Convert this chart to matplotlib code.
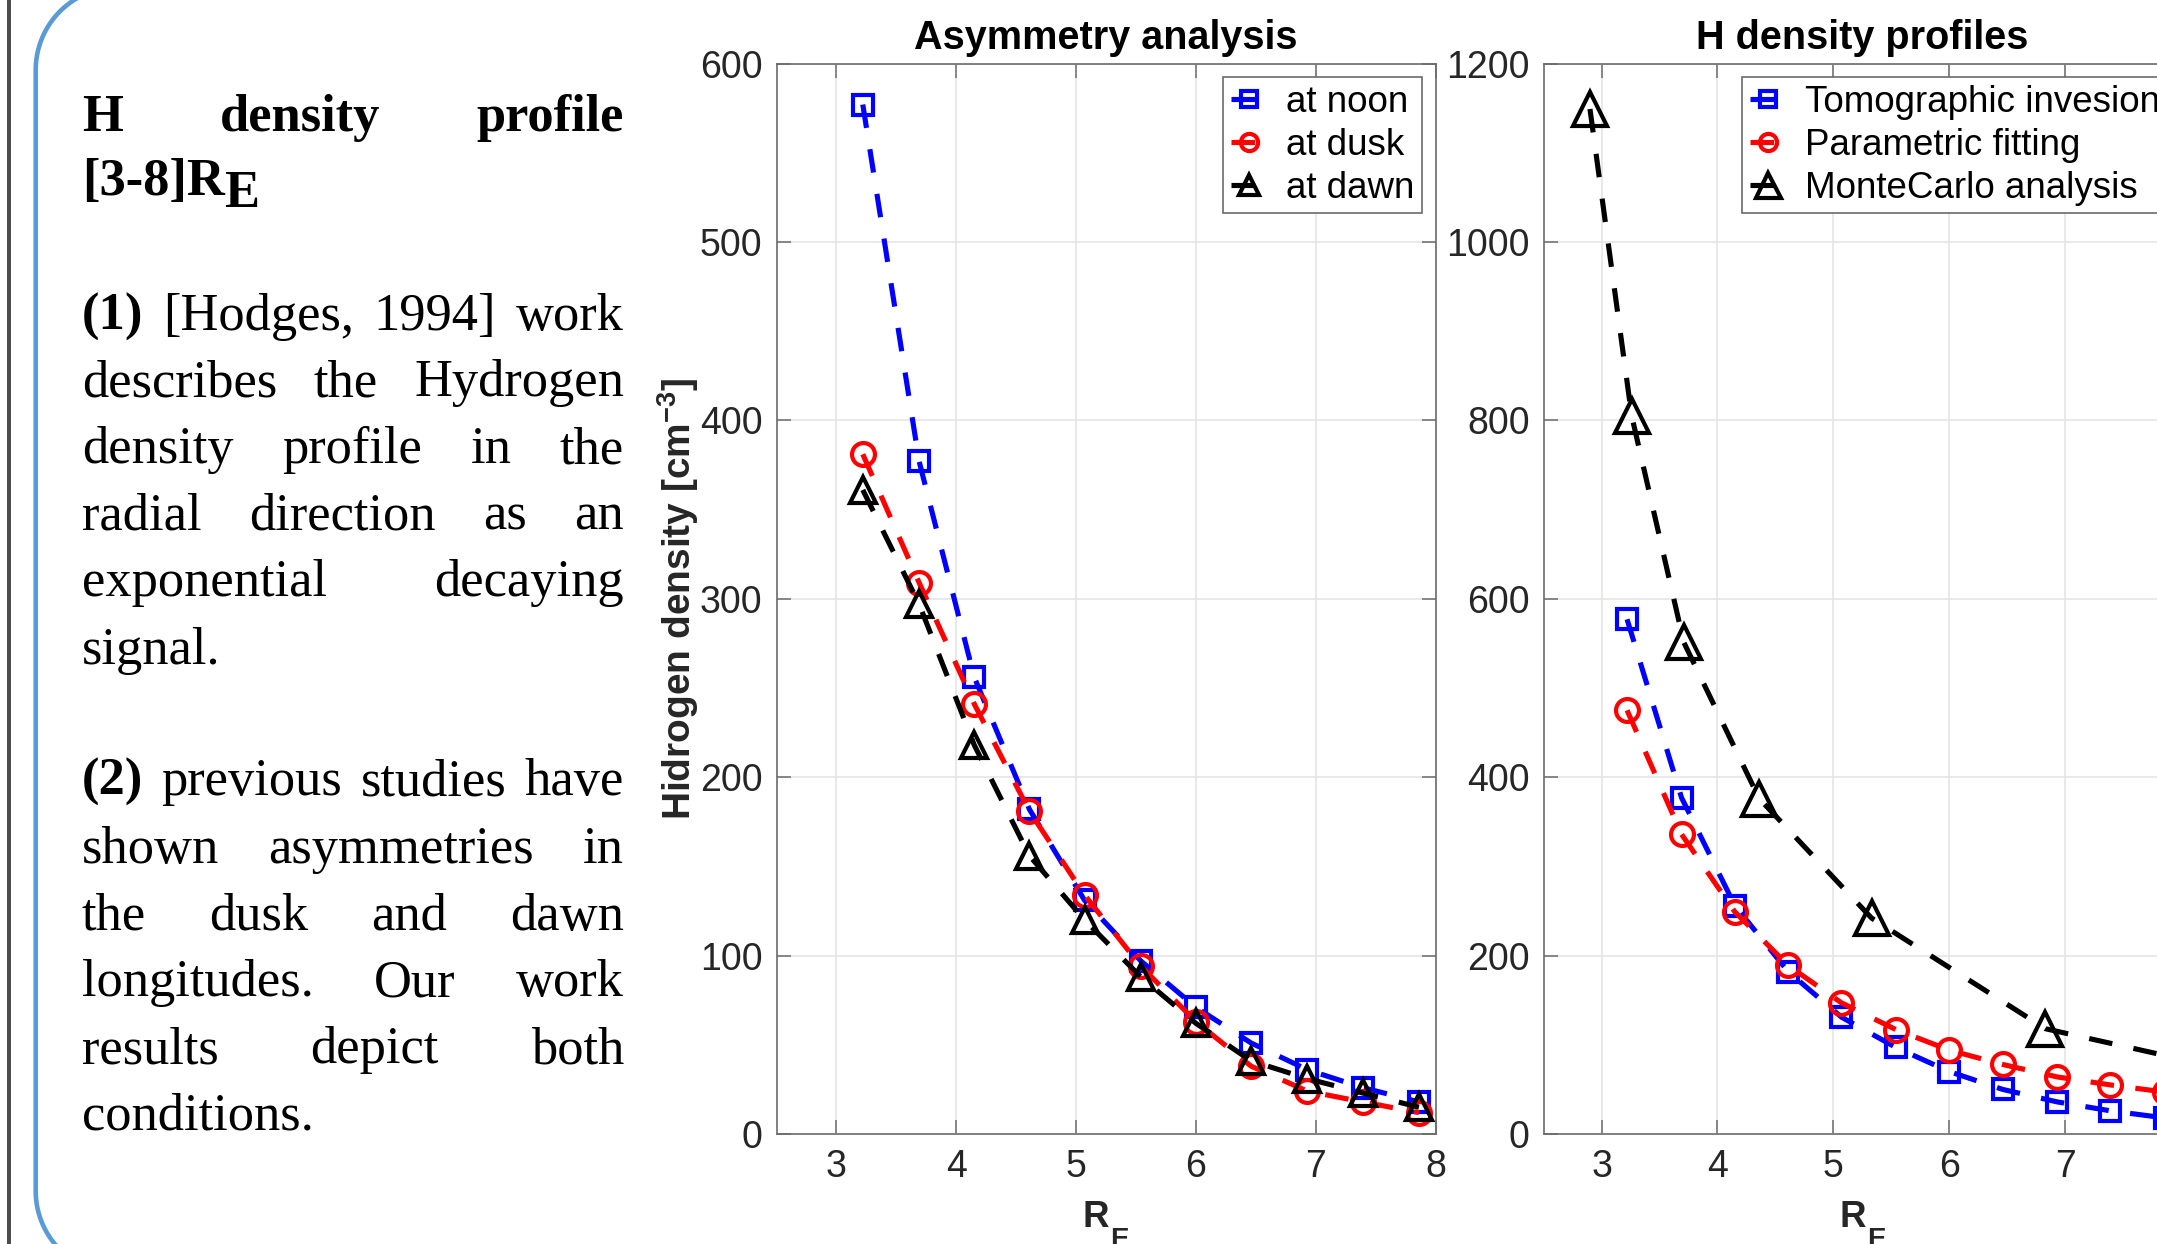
import numpy as np
import matplotlib
matplotlib.use("Agg")
import matplotlib.pyplot as plt
from matplotlib.patches import Rectangle
from matplotlib.lines import Line2D
from matplotlib.transforms import IdentityTransform

# ---------------- data ----------------
r_grid = [3.22, 3.69, 4.15, 4.61, 5.07, 5.54, 6.00, 6.46, 6.93, 7.39, 7.86]
noon = [577, 377, 256, 182, 131, 97, 71, 51, 36, 26, 18]
dusk = [381, 309, 241, 181, 134, 94, 63, 38, 24, 18, 12]
dawn = [361, 297, 218, 156, 120, 88, 62, 41, 31, 23, 15]

tomo = [577, 377, 256, 182, 131, 97, 70, 50, 36, 26, 18]
param = [475, 336, 249, 189, 147, 117, 94, 78, 64, 55, 47]
r_mc = [2.90, 3.26, 3.71, 4.36, 5.33, 6.83, 9.10]
mc = [1149, 805, 551, 376, 242, 118, 52]

asym_labels = ["at noon", "at dusk", "at dawn"]
prof_labels = ["Tomographic invesion", "Parametric fitting", "MonteCarlo analysis"]
yticks_left = [0, 100, 200, 300, 400, 500, 600]
yticks_right = [0, 200, 400, 600, 800, 1000, 1200]
xticks = [3, 4, 5, 6, 7, 8]

# ---------------- style ----------------
W, H, DPI = 2157, 1244, 100
plt.rcParams["font.family"] = ["Liberation Sans", "DejaVu Sans"]
plt.rcParams["mathtext.fontset"] = "custom"
plt.rcParams["mathtext.rm"] = "Liberation Sans"
plt.rcParams["mathtext.it"] = "Liberation Sans:italic"
plt.rcParams["mathtext.bf"] = "Liberation Sans:bold"

fig = plt.figure(figsize=(W / DPI, H / DPI), dpi=DPI, facecolor="white")
ID = IdentityTransform()

# decorative frame on the left (pixel coords, y measured from top)
fig.add_artist(Rectangle((6.7, 0), 4.5, H, transform=ID,
                         facecolor="#4d4d4d", edgecolor="none"))
R_c, xl, top, bot = 83.0, 35.7, -13.0, 1274.0
cx, cy1, cy2 = xl + R_c, top + R_c, bot - R_c
t = np.linspace(np.pi / 2, 0, 40)
arc1_x = cx - R_c * np.cos(t)
arc1_y = cy1 - R_c * np.sin(t)
t2 = np.linspace(0, np.pi / 2, 40)
arc2_x = cx - R_c * np.cos(t2)
arc2_y = cy2 + R_c * np.sin(t2)
bx = np.concatenate([[3000, cx], arc1_x, [xl], arc2_x, [3000]])
by = np.concatenate([[top, top], arc1_y, [cy2], arc2_y, [bot]])
fig.add_artist(Line2D(bx, H - by, transform=ID, color="#5b9bd5",
                      linewidth=3.3, solid_joinstyle="round"))

SPINE = "#6b6b6b"
TXT = "#262626"
LW = 3.7
DASH = (4.6, 4.2)


def style_axes(ax, yt, ylim):
    ax.set_xlim(2.5, 8)
    ax.set_ylim(*ylim)
    ax.set_xticks(xticks)
    ax.set_yticks(yt)
    ax.grid(True, color="#e3e3e3", linewidth=1.1)
    ax.set_axisbelow(True)
    for s in ax.spines.values():
        s.set_color(SPINE)
        s.set_linewidth(1.2)
    ax.tick_params(axis="both", direction="in", length=10, width=1.1,
                   color=SPINE, top=True, right=True, labelsize=27,
                   labelcolor=TXT)
    ax.tick_params(axis="x", pad=11)
    ax.tick_params(axis="y", pad=10)


def add_legend(ax):
    leg = ax.legend(loc="upper right", fontsize=26.5, frameon=True,
                    fancybox=False, edgecolor=SPINE, framealpha=1,
                    handlelength=1.0, handletextpad=0.5, borderpad=0.2,
                    labelspacing=0.22, borderaxespad=0.38, markerscale=0.75)
    leg.get_frame().set_linewidth(1.2)
    return leg


def r_label(ax_center_px):
    fig.text((ax_center_px - 23.3) / W, 1 - 1227 / H, "R", fontsize=26.5,
             fontweight="bold", color=TXT, va="baseline", ha="left")
    fig.text((ax_center_px + 4.5) / W, 1 - 1247 / H, "E", fontsize=20,
             fontweight="bold", color=TXT, va="baseline", ha="left")


mk = dict(markerfacecolor="none", markeredgewidth=3.0, linewidth=LW,
          linestyle="--", dashes=DASH)

# ---------------- left axes ----------------
axL = fig.add_axes([776.5 / W, 1 - 1134 / H, 659.2 / W, 1070.5 / H])
style_axes(axL, yticks_left, (0, 600))
axL.plot(r_grid, noon, color="#0000ff", marker="s", markersize=15,
         label=asym_labels[0], **mk)
axL.plot(r_grid, dusk, color="#ff0000", marker="o", markersize=16.5,
         label=asym_labels[1], **mk)
axL.plot(r_grid, dawn, color="#000000", marker="^", markersize=19,
         label=asym_labels[2], **mk)
axL.set_title("Asymmetry analysis", fontsize=28.5, fontweight="bold", pad=10.4)
axL.set_ylabel(r"Hidrogen density [cm$^{\mathbf{-3}}$]", fontsize=28,
               fontweight="bold", color=TXT, va="center")
axL.yaxis.set_label_coords(-0.1494, 0.5)
add_legend(axL)
r_label(776.5 + 659.2 / 2)

# ---------------- right axes ----------------
axR = fig.add_axes([1543.6 / W, 1 - 1134 / H, 637.5 / W, 1070.5 / H])
style_axes(axR, yticks_right, (0, 1200))
axR.plot(r_grid, tomo, color="#0000ff", marker="s", markersize=15,
         label=prof_labels[0], **mk)
axR.plot(r_grid, param, color="#ff0000", marker="o", markersize=16.5,
         label=prof_labels[1], **mk)
axR.plot(r_mc, mc, color="#000000", marker="^", markersize=24,
         label=prof_labels[2], **mk)
axR.set_title("H density profiles", fontsize=28.5, fontweight="bold", pad=10.4)
add_legend(axR)
r_label(1543.6 + 637.5 / 2)

# ---------------- justified text panel ----------------
SERIF = ["Liberation Serif", "DejaVu Serif"]
FS = 37.8
X0, X1 = 81.7, 624.1
renderer = fig.canvas.get_renderer()


def place_line(words, ybase, justify=True):
    texts, widths = [], []
    for w, b in words:
        tx = fig.text(0, 1 - ybase / H, w, fontsize=FS, family=SERIF,
                      fontweight="bold" if b else "normal", va="baseline",
                      ha="left", color="black")
        bb = tx.get_window_extent(renderer)
        texts.append(tx)
        widths.append(bb.width)
    if justify and len(words) > 1:
        gap = (X1 - X0 - sum(widths)) / (len(words) - 1)
    else:
        gap = 0.25 * FS * DPI / 72
    x = X0
    for tx, wd in zip(texts, widths):
        tx.set_x(x / W)
        x += wd + gap
    return x


def words(s, bold_first=False, all_bold=False):
    return [(w, all_bold or (bold_first and i == 0))
            for i, w in enumerate(s.split())]


place_line(words("H density profile", all_bold=True), 130.6)
tx = fig.text(X0 / W, 1 - 194.9 / H, "[3-8]R", fontsize=FS, family=SERIF,
              fontweight="bold", va="baseline", ha="left")
wd = tx.get_window_extent(renderer).width
fig.text((X0 + wd) / W, 1 - 207.3 / H, "E", fontsize=FS, family=SERIF,
         fontweight="bold", va="baseline", ha="left")

para1 = [("(1) [Hodges, 1994] work", True, True, 329.6),
         ("describes the Hydrogen", False, True, 396.3),
         ("density profile in the", False, True, 463.0),
         ("radial direction as an", False, True, 529.8),
         ("exponential decaying", False, True, 596.2),
         ("signal.", False, False, 663.7)]
para2 = [("(2) previous studies have", True, True, 795.0),
         ("shown asymmetries in", False, True, 862.8),
         ("the dusk and dawn", False, True, 929.8),
         ("longitudes. Our work", False, True, 996.3),
         ("results depict both", False, True, 1063.2),
         ("conditions.", False, False, 1129.8)]
for s, bf, just, yb in para1 + para2:
    place_line(words(s, bold_first=bf), yb, justify=just)

fig.savefig("out.png", dpi=DPI, facecolor="white")
